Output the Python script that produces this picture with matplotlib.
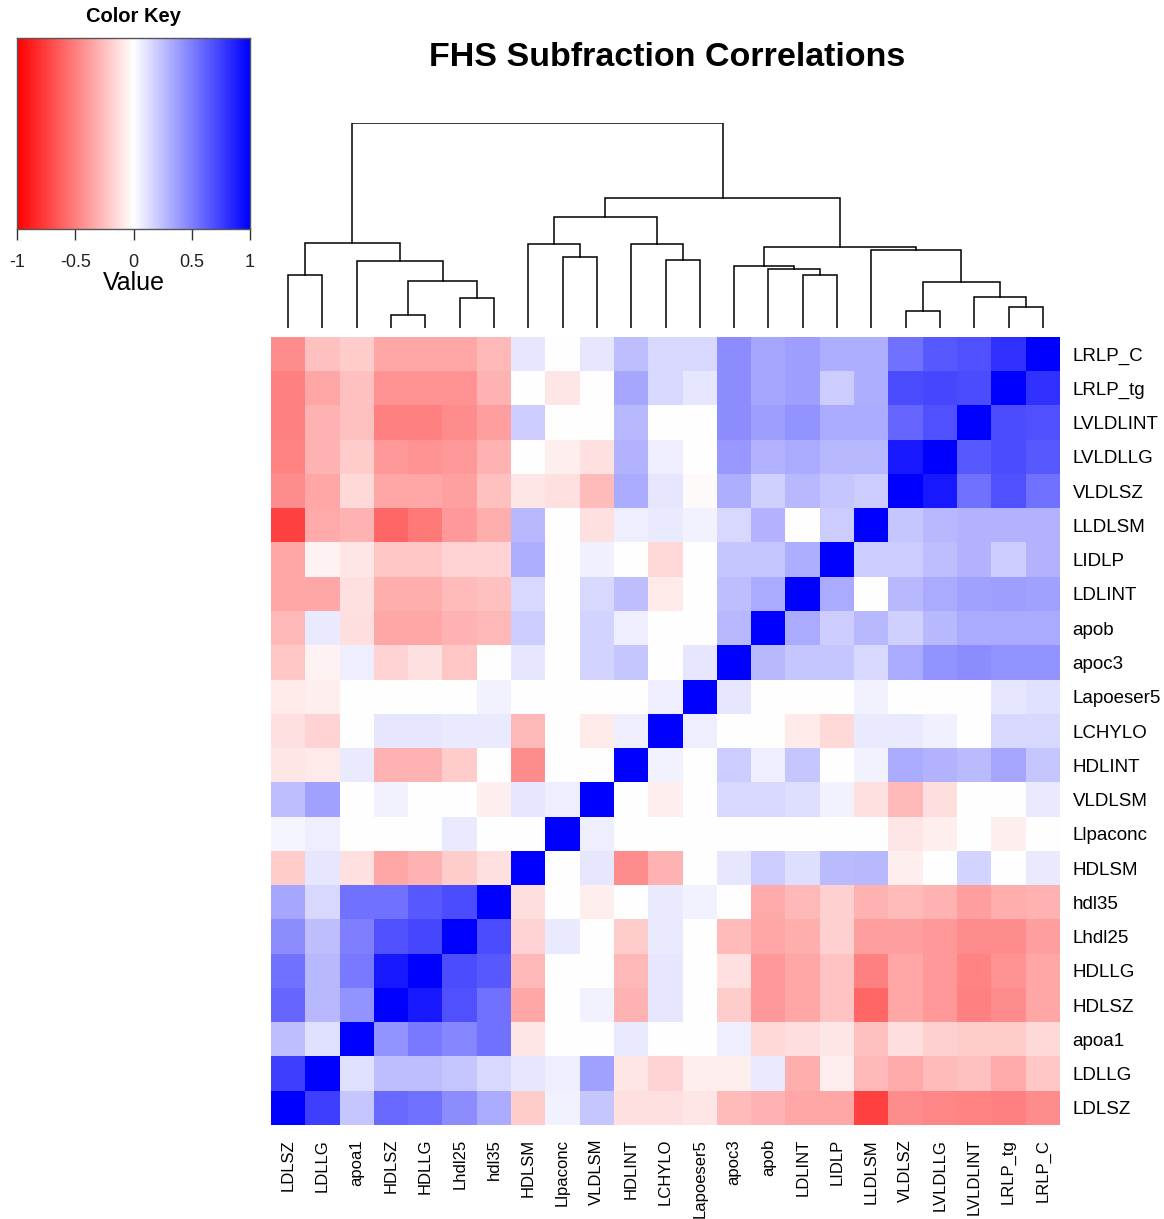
import numpy as np
import matplotlib
matplotlib.use("Agg")
import matplotlib.pyplot as plt
from matplotlib.colors import LinearSegmentedColormap

plt.rcParams['font.family'] = ['Liberation Sans', 'DejaVu Sans']

# Variables in dendrogram (column) order
variables = ["LDLSZ", "LDLLG", "apoa1", "HDLSZ", "HDLLG", "Lhdl25", "hdl35",
             "HDLSM", "Llpaconc", "VLDLSM", "HDLINT", "LCHYLO", "Lapoeser5",
             "apoc3", "apob", "LDLINT", "LIDLP", "LLDLSM", "VLDLSZ", "LVLDLLG",
             "LVLDLINT", "LRLP_tg", "LRLP_C"]
# Row labels from top to bottom (reverse of column order)
row_labels = variables[::-1]

# Correlation values, rows displayed top to bottom, columns in `variables` order
corr_rows = [
    [-0.45, -0.25, -0.20, -0.35, -0.35, -0.35, -0.28, 0.10, 0.00, 0.10, 0.25, 0.15, 0.15, 0.45, 0.35, 0.38, 0.32, 0.32, 0.55, 0.65, 0.68, 0.80, 1.00],  # LRLP_C
    [-0.50, -0.35, -0.25, -0.42, -0.42, -0.42, -0.30, 0.00, -0.10, 0.00, 0.35, 0.15, 0.10, 0.45, 0.35, 0.38, 0.20, 0.32, 0.70, 0.72, 0.70, 1.00, 0.80],  # LRLP_tg
    [-0.50, -0.30, -0.25, -0.50, -0.50, -0.45, -0.38, 0.20, 0.00, 0.00, 0.28, 0.00, 0.00, 0.45, 0.38, 0.42, 0.33, 0.33, 0.60, 0.68, 1.00, 0.70, 0.68],  # LVLDLINT
    [-0.48, -0.30, -0.20, -0.40, -0.42, -0.40, -0.30, 0.00, -0.07, -0.12, 0.30, 0.07, 0.00, 0.40, 0.30, 0.33, 0.28, 0.28, 0.90, 1.00, 0.65, 0.70, 0.65],  # LVLDLLG
    [-0.45, -0.35, -0.15, -0.35, -0.35, -0.37, -0.25, -0.10, -0.12, -0.27, 0.33, 0.10, -0.02, 0.32, 0.18, 0.28, 0.22, 0.20, 1.00, 0.90, 0.55, 0.68, 0.55],  # VLDLSZ
    [-0.75, -0.33, -0.30, -0.60, -0.52, -0.40, -0.32, 0.28, 0.00, -0.12, 0.07, 0.08, 0.05, 0.15, 0.30, 0.00, 0.20, 1.00, 0.22, 0.28, 0.30, 0.30, 0.30],  # LLDLSM
    [-0.35, -0.05, -0.10, -0.22, -0.22, -0.17, -0.17, 0.32, 0.00, 0.06, 0.00, -0.15, 0.00, 0.22, 0.22, 0.32, 1.00, 0.20, 0.20, 0.25, 0.30, 0.20, 0.30],  # LIDLP
    [-0.35, -0.35, -0.12, -0.32, -0.32, -0.27, -0.25, 0.15, 0.00, 0.15, 0.25, -0.08, 0.00, 0.25, 0.33, 1.00, 0.33, 0.00, 0.28, 0.33, 0.37, 0.38, 0.37],  # LDLINT
    [-0.28, 0.08, -0.13, -0.35, -0.35, -0.30, -0.28, 0.20, 0.00, 0.17, 0.07, 0.00, 0.00, 0.28, 1.00, 0.33, 0.20, 0.28, 0.18, 0.28, 0.33, 0.33, 0.33],  # apob
    [-0.22, -0.05, 0.07, -0.17, -0.12, -0.22, 0.00, 0.10, 0.00, 0.17, 0.22, 0.00, 0.10, 1.00, 0.28, 0.22, 0.22, 0.15, 0.33, 0.42, 0.45, 0.42, 0.42],  # apoc3
    [-0.08, -0.07, 0.00, 0.00, 0.00, 0.00, 0.05, 0.00, 0.00, 0.00, 0.00, 0.07, 1.00, 0.10, 0.00, 0.00, 0.00, 0.05, 0.00, 0.00, 0.00, 0.10, 0.12],  # Lapoeser5
    [-0.12, -0.17, 0.00, 0.10, 0.10, 0.08, 0.08, -0.28, 0.00, -0.08, 0.07, 1.00, 0.07, 0.00, 0.00, -0.08, -0.15, 0.08, 0.08, 0.06, 0.00, 0.15, 0.15],  # LCHYLO
    [-0.10, -0.08, 0.08, -0.30, -0.30, -0.20, 0.00, -0.45, 0.00, 0.00, 1.00, 0.05, 0.00, 0.20, 0.07, 0.22, 0.00, 0.05, 0.33, 0.30, 0.27, 0.35, 0.22],  # HDLINT
    [0.25, 0.37, 0.00, 0.05, 0.00, 0.00, -0.07, 0.10, 0.07, 1.00, 0.00, -0.07, 0.00, 0.15, 0.15, 0.13, 0.05, -0.12, -0.28, -0.13, 0.00, 0.00, 0.08],  # VLDLSM
    [0.04, 0.07, 0.00, 0.00, 0.00, 0.08, 0.00, 0.00, 1.00, 0.07, 0.00, 0.00, 0.00, 0.00, 0.00, 0.00, 0.00, 0.00, -0.10, -0.07, 0.00, -0.07, 0.00],  # Llpaconc
    [-0.20, 0.10, -0.12, -0.35, -0.30, -0.20, -0.12, 1.00, 0.00, 0.10, -0.45, -0.30, 0.00, 0.10, 0.20, 0.13, 0.27, 0.28, -0.07, 0.00, 0.17, 0.00, 0.08],  # HDLSM
    [0.35, 0.15, 0.55, 0.55, 0.65, 0.70, 1.00, -0.13, 0.00, -0.07, 0.00, 0.08, 0.05, 0.00, -0.33, -0.28, -0.18, -0.30, -0.27, -0.30, -0.38, -0.32, -0.30],  # hdl35
    [0.45, 0.25, 0.50, 0.68, 0.72, 1.00, 0.70, -0.17, 0.08, 0.00, -0.20, 0.08, 0.00, -0.27, -0.35, -0.32, -0.18, -0.38, -0.38, -0.40, -0.45, -0.45, -0.38],  # Lhdl25
    [0.55, 0.28, 0.52, 0.90, 1.00, 0.70, 0.65, -0.28, 0.00, 0.00, -0.28, 0.10, 0.00, -0.12, -0.40, -0.35, -0.23, -0.50, -0.35, -0.40, -0.48, -0.42, -0.35],  # HDLLG
    [0.60, 0.28, 0.42, 1.00, 0.90, 0.68, 0.55, -0.35, 0.00, 0.05, -0.30, 0.10, 0.00, -0.20, -0.40, -0.35, -0.23, -0.60, -0.35, -0.40, -0.50, -0.45, -0.35],  # HDLSZ
    [0.25, 0.12, 1.00, 0.42, 0.52, 0.47, 0.55, -0.10, 0.00, 0.00, 0.08, 0.00, 0.00, 0.07, -0.15, -0.13, -0.10, -0.25, -0.13, -0.18, -0.20, -0.20, -0.15],  # apoa1
    [0.75, 1.00, 0.12, 0.25, 0.25, 0.22, 0.15, 0.10, 0.07, 0.37, -0.10, -0.17, -0.07, -0.07, 0.08, -0.32, -0.07, -0.28, -0.33, -0.27, -0.25, -0.33, -0.22],  # LDLLG
    [1.00, 0.75, 0.22, 0.58, 0.55, 0.45, 0.33, -0.20, 0.05, 0.22, -0.12, -0.12, -0.10, -0.27, -0.30, -0.35, -0.35, -0.75, -0.45, -0.47, -0.48, -0.50, -0.45],  # LDLSZ
]

# Column dendrogram: merges (node_a, node_b, height); node ids >= 23 are earlier merges
merges = [
    (0, 1, 53.3), (3, 4, 12.7), (5, 6, 30.0), (24, 25, 46.7), (2, 26, 66.7),
    (23, 27, 85.0), (8, 9, 70.7), (7, 29, 84.0), (11, 12, 68.3), (10, 31, 84.0),
    (30, 32, 110.7), (15, 16, 53.3), (14, 34, 59.0), (13, 35, 62.3), (18, 19, 16.7),
    (21, 22, 21.0), (20, 38, 31.0), (37, 39, 45.7), (17, 40, 78.3), (36, 41, 80.7),
    (33, 42, 130.0), (28, 43, 205.0),
]

key_ticks = [-1, -0.5, 0, 0.5, 1]
key_tick_labels = ["-1", "-0.5", "0", "0.5", "1"]

W, H = 1164, 1219
fig = plt.figure(figsize=(W / 100, H / 100), dpi=100)

def px_axes(x0, y0, x1, y1):
    return fig.add_axes([x0 / W, 1 - y1 / H, (x1 - x0) / W, (y1 - y0) / H])

cmap = LinearSegmentedColormap.from_list("rwb", ["#FF0000", "#FFFFFF", "#0000FF"], N=256)

n = len(variables)
M = np.array(corr_rows)

# Heatmap
ax = px_axes(271, 337, 1060, 1125)
ax.imshow(M, cmap=cmap, vmin=-1, vmax=1, extent=(0, n, n, 0), aspect='auto',
          interpolation='nearest')
ax.set_xlim(0, n)
ax.set_ylim(n, 0)
for s in ax.spines.values():
    s.set_visible(False)
ax.set_xticks(np.arange(n) + 0.5)
ax.set_xticklabels(variables, rotation=90, fontsize=12)
ax.set_yticks(np.arange(n) + 0.5)
ax.set_yticklabels(row_labels, fontsize=13.5)
ax.yaxis.tick_right()
ax.tick_params(axis='both', length=0)
ax.tick_params(axis='x', pad=10)
ax.tick_params(axis='y', pad=9)

# Dendrogram
dax = px_axes(271, 123, 1060, 328)
pos = {i: i + 0.5 for i in range(n)}
hgt = {i: 0.0 for i in range(n)}
for k, (a, b, h) in enumerate(merges):
    xa, xb = pos[a], pos[b]
    dax.plot([xa, xa, xb, xb], [hgt[a], h, h, hgt[b]], color='black', lw=1.1,
             solid_joinstyle='miter')
    pos[n + k] = (xa + xb) / 2
    hgt[n + k] = h
dax.set_xlim(0, n)
dax.set_ylim(0, max(m[2] for m in merges))
dax.axis('off')

# Title
fig.text(667 / W, 1 - 57 / H, "FHS Subfraction Correlations", ha='center', va='center',
         fontsize=24.5, fontweight='bold')

# Color key
kax = px_axes(17, 38, 250, 229)
grad = np.linspace(-1, 1, 256).reshape(1, -1)
kax.imshow(grad, cmap=cmap, vmin=-1, vmax=1, extent=(-1, 1, 0, 1), aspect='auto')
kax.set_xlim(-1, 1)
kax.set_ylim(0, 1)
kax.set_yticks([])
kax.set_xticks(key_ticks)
kax.set_xticklabels(key_tick_labels, fontsize=13, color='#222222')
kax.tick_params(axis='x', length=8, width=1, pad=10, color='#333333')
for s in kax.spines.values():
    s.set_color('#555555')
    s.set_linewidth(1)
fig.text(134 / W, 1 - 17 / H, "Color Key", ha='center', va='center',
         fontsize=14.5, fontweight='bold')
kax.set_xlabel("Value", fontsize=18, labelpad=0)

fig.savefig("out.png", dpi=100)
